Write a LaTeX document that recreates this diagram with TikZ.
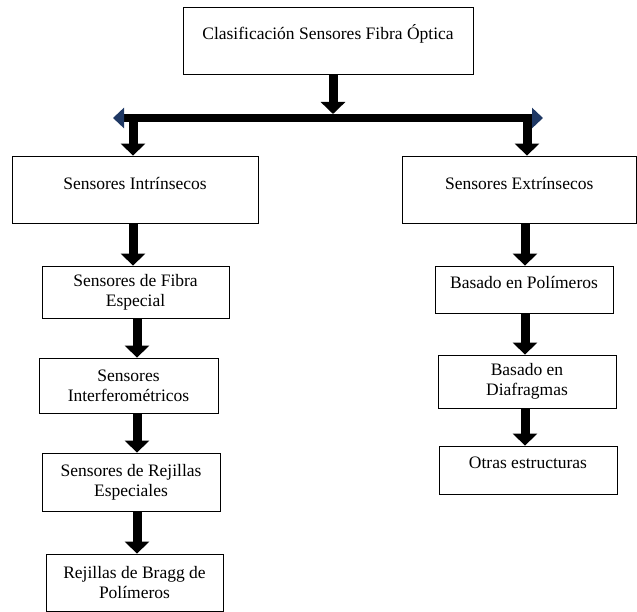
\documentclass[tikz,border=0pt]{standalone}
\usepackage{fontspec}
\setmainfont{Liberation Serif}
\usetikzlibrary{arrows.meta}
\definecolor{barblue}{RGB}{31,56,100}
\begin{document}
\begin{tikzpicture}[x=1pt,y=-1pt,
  box/.style={draw=black,line width=0.8pt,align=center,inner sep=0pt,
    font=\fontsize{17.5}{20}\selectfont},
  fat/.style={line width=9pt,-{Triangle[width=24pt,length=12pt]}},
  bar/.style={line width=8pt,draw=black,
    {Triangle[width=20pt,length=11pt,color=barblue]}-{Triangle[width=20pt,length=11pt,color=barblue]}}]
\useasboundingbox (0,0) rectangle (637,612);
\node [box,minimum width=290pt,text height=33pt,text depth=34pt] (top) at (328,40.5) {Clasificaci\'on Sensores Fibra \'Optica};
\node [box,minimum width=246pt,text height=34pt,text depth=33pt] (intr) at (135,189.5) {Sensores Intr\'insecos};
\node [box,minimum width=234.5pt,text height=34pt,text depth=33pt] (extr) at (519.25,189.5) {Sensores Extr\'insecos};
\node [box,minimum width=187pt,minimum height=52pt] (fibra) at (135.5,292) {Sensores de Fibra\\Especial};
\node [box,minimum width=179pt,minimum height=55pt] (interf) at (128.5,385.5) {Sensores\\Interferom\'etricos};
\node [box,minimum width=178pt,minimum height=58pt] (rejillas) at (131,482) {Sensores de Rejillas\\Especiales};
\node [box,minimum width=177pt,minimum height=57pt] (bragg) at (134.5,582.5) {Rejillas de Bragg de\\Pol\'imeros};
\node [box,minimum width=178pt,text height=22pt,text depth=25pt] (polim) at (524,289.5) {Basado en Pol\'imeros};
\node [box,minimum width=178pt,minimum height=53pt] (diafr) at (527,381.5) {Basado en\\Diafragmas};
\node [box,minimum width=178pt,text height=22pt,text depth=26pt] (otras) at (528,470) {Otras estructuras};
\coordinate (hub) at (333,114);
\coordinate (barL) at (113,118);
\coordinate (barR) at (543,118);
\coordinate (dropL) at (133,118);
\coordinate (dropR) at (527,118);
\coordinate (colL) at (137,0);
\coordinate (colR) at (525,0);
\draw [fat] (top.south -| hub) -- (hub);
\draw [bar] (barL) -- (barR);
\draw [fat] (dropL) -- (intr.north -| dropL);
\draw [fat] (dropR) -- (extr.north -| dropR);
\draw [fat] (intr.south -| dropL) -- (fibra.north -| dropL);
\draw [fat] (fibra.south -| colL) -- (interf.north -| colL);
\draw [fat] (interf.south -| colL) -- (rejillas.north -| colL);
\draw [fat] (rejillas.south -| colL) -- (bragg.north -| colL);
\draw [fat] (extr.south -| colR) -- (polim.north -| colR);
\draw [fat] (polim.south -| colR) -- (diafr.north -| colR);
\draw [fat] (diafr.south -| colR) -- (otras.north -| colR);
\end{tikzpicture}
\end{document}
